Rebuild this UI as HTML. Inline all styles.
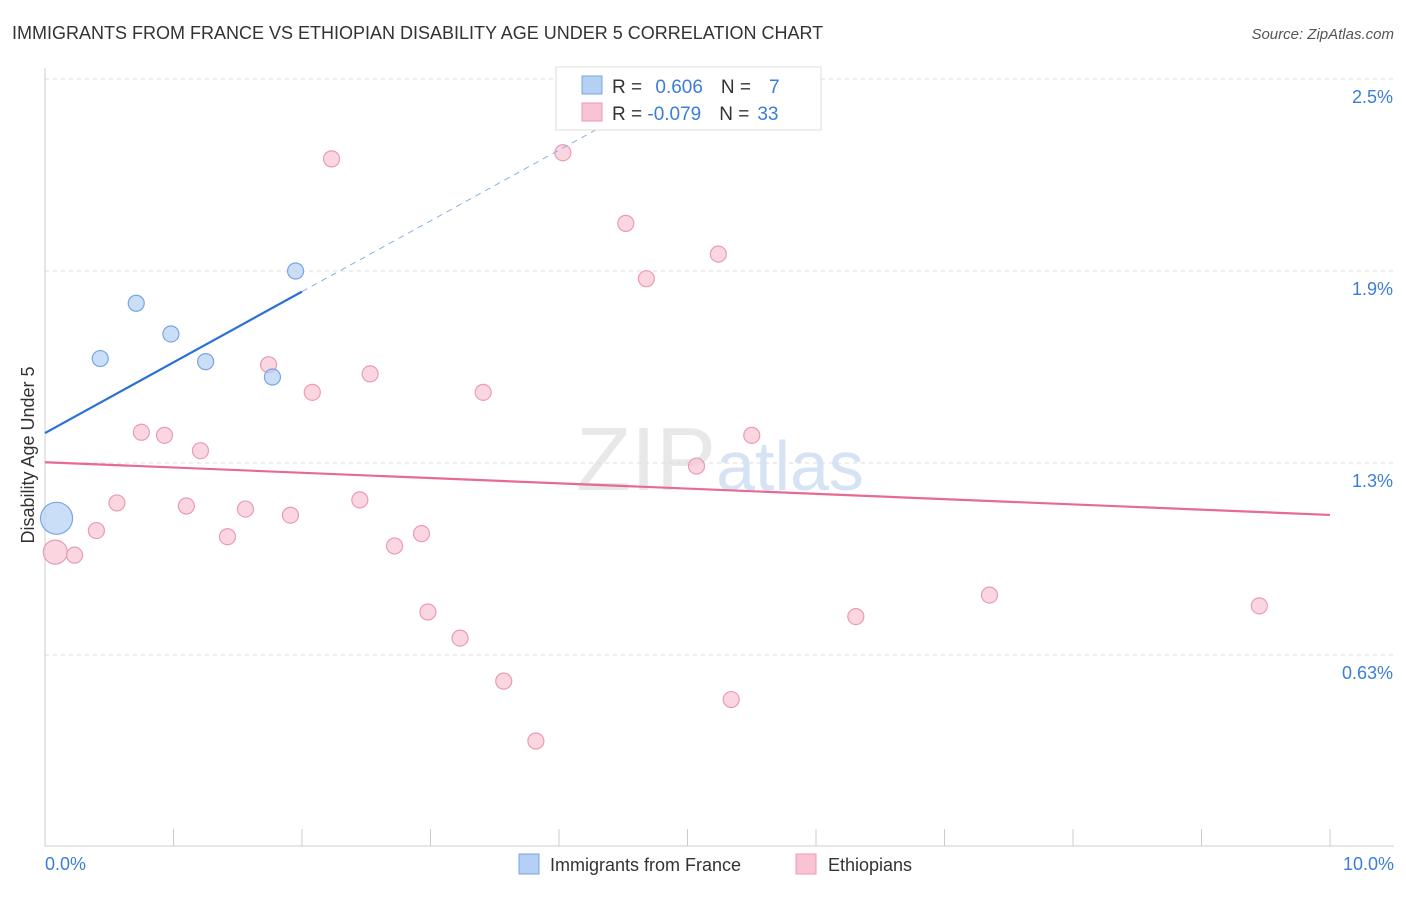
<!DOCTYPE html>
<html><head><meta charset="utf-8"><style>
body{margin:0;background:#fff;font-family:"Liberation Sans",sans-serif}
svg text{font-family:"Liberation Sans",sans-serif}
</style></head><body>
<svg width="1406" height="892">
<text x="12" y="39" font-size="18" fill="#333">IMMIGRANTS FROM FRANCE VS ETHIOPIAN DISABILITY AGE UNDER 5 CORRELATION CHART</text>
<text x="1394" y="39" font-size="15" fill="#555" font-style="italic" text-anchor="end">Source: ZipAtlas.com</text>
<text x="720" y="490" font-size="90" fill="#e8e8e8" text-anchor="middle" font-family="Liberation Serif">ZIP<tspan fill="#d6e3f5" font-family="Liberation Sans" font-size="70">atlas</tspan></text>
<g id="grid"></g><g id="marks"></g>
<text x="34" y="455" font-size="18" fill="#333" text-anchor="middle" transform="rotate(-90 34 455)">Disability Age Under 5</text>
<text x="45" y="870" font-size="18" fill="#3b7dd8">0.0%</text>
<text x="1394" y="870" font-size="18" fill="#3b7dd8" text-anchor="end">10.0%</text>
<g>
<rect x="556" y="67" width="265" height="63" fill="#fff" stroke="#ddd"/>
<rect x="582" y="76" width="20" height="18" fill="#b5d0f5" stroke="#7aa5e0"/>
<rect x="582" y="103" width="20" height="18" fill="#f8c4d4" stroke="#ec9ab5"/>
<text x="612" y="93" font-size="19" fill="#333">R = <tspan fill="#3b7dd8" dx="8">0.606</tspan><tspan dx="18" fill="#333">N =</tspan><tspan dx="18" fill="#3b7dd8">7</tspan></text>
<text x="612" y="120" font-size="19" fill="#333">R = <tspan fill="#3b7dd8">-0.079</tspan><tspan dx="18" fill="#333">N =</tspan><tspan dx="8" fill="#3b7dd8">33</tspan></text>
</g>
<g>
<rect x="519" y="854" width="20" height="20" fill="#b5d0f5" stroke="#7aa5e0"/>
<text x="550" y="871" font-size="18" fill="#333">Immigrants from France</text>
<rect x="796" y="854" width="20" height="20" fill="#f8c4d4" stroke="#ec9ab5"/>
<text x="828" y="871" font-size="18" fill="#333">Ethiopians</text>
</g>
</svg>
<script>
const yTicks=[2.5,1.875,1.25,0.625];
const yTickLabels=["2.5%","1.9%","1.3%","0.63%"];
const blueX=[0.09,0.43,0.71,0.98,1.25,1.77,1.95];
const blueY=[1.07,1.59,1.77,1.67,1.58,1.53,1.875];
const blueR=[16,8,8,8,8,8,8];
const pinkX=[0.08,0.23,0.40,0.56,0.75,0.93,1.10,1.21,1.42,1.56,1.74,1.91,2.08,2.23,2.45,2.53,2.72,2.93,2.98,3.23,3.41,3.57,3.82,4.03,4.52,4.68,5.07,5.24,5.34,5.50,6.31,7.35,9.45];
const pinkY=[0.96,0.95,1.03,1.12,1.35,1.34,1.11,1.29,1.01,1.10,1.57,1.08,1.48,2.24,1.13,1.54,0.98,1.02,0.765,0.68,1.48,0.54,0.345,2.26,2.03,1.85,1.24,1.93,0.48,1.34,0.75,0.82,0.785];
const pinkR=[12,8,8,8,8,8,8,8,8,8,8,8,8,8,8,8,8,8,8,8,8,8,8,8,8,8,8,8,8,8,8,8,8];
const NS="http://www.w3.org/2000/svg";
const X=v=>45+v*128.5, Y=v=>847-v/2.5*768;
function mk(t,a,p){const e=document.createElementNS(NS,t);for(const k in a)e.setAttribute(k,a[k]);p.appendChild(e);return e;}
const grid=document.getElementById('grid'),marks=document.getElementById('marks');
yTicks.forEach((t,i)=>{
 const l=mk('line',{x1:45,x2:1394,y1:Y(t),y2:Y(t),stroke:'#ddd','stroke-dasharray':'4 4'},grid);
 
 
 const tx=mk('text',{x:1393,y:Y(t)+24,'font-size':18,fill:'#3b7dd8','text-anchor':'end'},grid);
 tx.textContent=yTickLabels[i];
 
 
});
const ax=mk('line',{x1:45,x2:45,y1:68,y2:846,stroke:'#ccc'},grid);


const bx=mk('line',{x1:45,x2:1394,y1:846,y2:846,stroke:'#ccc'},grid);


for(let i=0;i<=10;i++){const t=mk('line',{x1:X(i),x2:X(i),y1:829,y2:846,stroke:'#ccc'},grid);
 
 }
function fit(xs,ys){const n=xs.length,mx=xs.reduce((a,b)=>a+b)/n,my=ys.reduce((a,b)=>a+b)/n;let sxy=0,sxx=0;xs.forEach((x,i)=>{sxy+=(x-mx)*(ys[i]-my);sxx+=(x-mx)**2});const b=sxy/sxx;return [my-b*mx,b];}
function pts(xs,ys,rs,fill,stroke,name){xs.forEach((x,i)=>{const c=mk('circle',{cx:X(x),cy:Y(ys[i]),r:rs[i],fill:fill,'fill-opacity':0.7,stroke:stroke,'stroke-width':1.2},marks);
 
 });}
pts(pinkX,pinkY,pinkR,'#f8c4d4','#ec9ab5','ethiopians-point');
pts(blueX,blueY,blueR,'#b5d0f5','#7aa5e0','france-point');
let [a,b]=fit(blueX,blueY);
const xEnd=Math.min(10,(2.5-a)/b);
let l1=mk('line',{x1:X(2),y1:Y(a+b*2),x2:X(xEnd),y2:Y(a+b*xEnd),stroke:'#8ab0e0','stroke-dasharray':'6 5'},marks);


let l2=mk('line',{x1:X(0),y1:Y(a),x2:X(2),y2:Y(a+b*2),stroke:'#2a70d6','stroke-width':2.2},marks);


[a,b]=fit(pinkX,pinkY);
let l3=mk('line',{x1:X(0),y1:Y(a),x2:X(10),y2:Y(a+b*10),stroke:'#e66a95','stroke-width':2.2},marks);


</script>
</body></html>
